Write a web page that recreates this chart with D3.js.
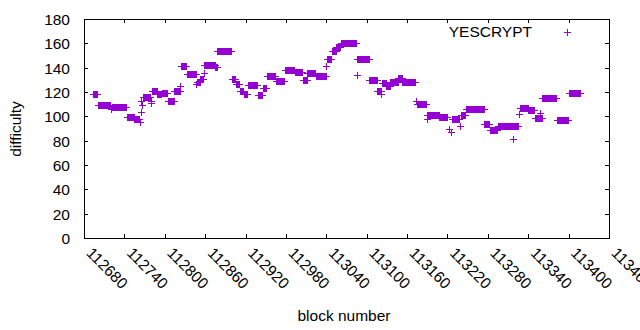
<!DOCTYPE html>
<html lang="en">
    <head>
        <meta charset="utf-8">
        <title>YESCRYPT difficulty</title>
        <script type="text/javascript" src="https://cdn.jsdelivr.net/npm/d3@7/dist/d3.min.js"></script>
        <style>
        body { margin: 0; background: white; }
        svg text {
            font-family: "Liberation Sans", Arial, sans-serif;
            font-size: 15.5px;
            fill: #000;
        }
        .tick line, .border {
            stroke: black;
            shape-rendering: crispEdges;
        }
        </style>
    </head>
    <body>
        <script type="text/javascript">

            var w = 640;  // svg width
            var h = 330;  // svg height

            // runs of blocks that share the same difficulty
            var blockStart = [112694, 112701, 112720, 112721, 112744, 112755, 112763, 112764, 112765, 112766,
                              112768, 112779, 112780, 112781, 112789, 112796, 112805, 112814, 112823, 112824,
                              112833, 112847, 112848, 112853, 112858, 112859, 112875, 112878, 112900, 112906,
                              112912, 112917, 112923, 112938, 112946, 112952, 112965, 112978, 112993, 113005,
                              113012, 113024, 113040, 113041, 113048, 113055, 113062, 113085, 113086, 113104,
                              113116, 113122, 113123, 113129, 113135, 113147, 113153, 113173, 113174, 113190,
                              113189, 113208, 113222, 113226, 113227, 113239, 113240, 113247, 113275, 113283,
                              113295, 113318, 113326, 113328, 113340, 113350, 113358, 113361, 113382, 113400];
            var blockEnd   = [112700, 112719, 112720, 112743, 112754, 112762, 112763, 112764, 112765, 112766,
                              112778, 112779, 112780, 112788, 112795, 112804, 112813, 112822, 112823, 112832,
                              112846, 112847, 112852, 112857, 112858, 112874, 112877, 112899, 112905, 112911,
                              112916, 112922, 112937, 112945, 112951, 112964, 112977, 112992, 113004, 113011,
                              113023, 113039, 113040, 113047, 113054, 113061, 113084, 113085, 113103, 113115,
                              113121, 113122, 113128, 113134, 113146, 113152, 113172, 113173, 113188, 113190,
                              113207, 113220, 113222, 113226, 113237, 113239, 113246, 113274, 113282, 113294,
                              113325, 113318, 113326, 113339, 113349, 113360, 113358, 113381, 113399, 113417];
            var difficulty = [118.5, 109, 106, 107.5, 99.5, 97.5, 95.5, 103.5, 112.5, 109.5,
                              115.5, 111, 113, 121, 118, 119.5, 112.5, 120.5, 125, 141,
                              134.5, 126.5, 128, 130.5, 136, 142.5, 140.5, 153.5, 131, 126.5,
                              121, 118.5, 125.5, 117.5, 123.5, 133, 129, 138, 136.5, 130,
                              136, 133, 141, 147.5, 153.5, 157, 160, 134, 147, 129.5,
                              120.5, 118.5, 127, 125, 128, 131.5, 128, 113, 110.5, 98,
                              101.5, 99.5, 90, 87, 97.5, 92, 101, 106, 93.5, 89,
                              92, 81, 102, 106.5, 105, 99, 103, 115, 97, 119.5];

            var xTicks = [112680, 112740, 112800, 112860, 112920, 112980, 113040,
                          113100, 113160, 113220, 113280, 113340, 113400, 113460];
            var yTicks = [0, 20, 40, 60, 80, 100, 120, 140, 160, 180];
            var seriesName = "YESCRYPT";

            var points = [];
            for (var i = 0; i < blockStart.length; i++) {
                for (var b = blockStart[i]; b <= blockEnd[i]; b++) {
                    points.push({block: b, value: difficulty[i]});
                }
            }

            var plotL = 84, plotR = 609, plotT = 19, plotB = 238;
            var color = "#9400d3";
            var ps = 3.5; // half size of the "+" point

            var x = d3.scaleLinear().domain([112680, 113460]).range([plotL, plotR]);
            var y = d3.scaleLinear().domain([0, 180]).range([plotB, plotT]);

            var svg = d3.select("body").append("svg")
                .attr("width", w)
                .attr("height", h);

            // ticks, pointing inward, mirrored on top and right
            var xb = svg.append("g")
                .attr("transform", "translate(0," + plotB + ")")
                .call(d3.axisBottom(x).tickValues(xTicks).tickFormat(d3.format("d"))
                    .tickSizeInner(-4).tickSizeOuter(0));
            xb.select(".domain").remove();
            xb.selectAll("text")
                .attr("x", null).attr("y", null).attr("dy", null)
                .attr("text-anchor", "start")
                .attr("transform", "translate(1,16) rotate(45)");

            var xt = svg.append("g")
                .attr("transform", "translate(0," + plotT + ")")
                .call(d3.axisTop(x).tickValues(xTicks).tickSizeInner(-4).tickSizeOuter(0).tickFormat(""));
            xt.select(".domain").remove();

            var yl = svg.append("g")
                .attr("transform", "translate(" + plotL + ",0)")
                .call(d3.axisLeft(y).tickValues(yTicks).tickSizeInner(-4).tickSizeOuter(0));
            yl.select(".domain").remove();
            yl.selectAll("text")
                .attr("x", -14).attr("dy", "0.35em");

            var yr = svg.append("g")
                .attr("transform", "translate(" + plotR + ",0)")
                .call(d3.axisRight(y).tickValues(yTicks).tickSizeInner(-4).tickSizeOuter(0).tickFormat(""));
            yr.select(".domain").remove();

            svg.selectAll("g").attr("font-size", null).attr("font-family", null);
            svg.selectAll(".tick line").attr("stroke", "black");

            // border box
            svg.append("rect")
                .attr("class", "border")
                .attr("x", plotL).attr("y", plotT)
                .attr("width", plotR - plotL).attr("height", plotB - plotT)
                .attr("fill", "none");

            // the points, drawn as "+"
            function plus(cx, cy) {
                cx = Math.round(cx) + 0.5;
                cy = Math.round(cy) + 0.5;
                return "M" + (cx - ps) + "," + cy + "H" + (cx + ps) +
                       "M" + cx + "," + (cy - ps) + "V" + (cy + ps);
            }

            svg.append("path")
                .attr("d", points.map(function(d) { return plus(x(d.block), y(d.value)); }).join(""))
                .attr("fill", "none")
                .attr("stroke", color)
                .attr("stroke-width", 1);

            // legend
            svg.append("text")
                .attr("x", 532).attr("y", 37)
                .attr("text-anchor", "end")
                .text(seriesName);
            svg.append("path")
                .attr("d", plus(567, 32))
                .attr("stroke", color)
                .attr("fill", "none");

            // axis titles
            svg.append("text")
                .attr("x", 344).attr("y", 321)
                .attr("text-anchor", "middle")
                .text("block number");
            svg.append("text")
                .attr("transform", "translate(21,129) rotate(-90)")
                .attr("text-anchor", "middle")
                .text("difficulty");

        </script>
    </body>
</html>
